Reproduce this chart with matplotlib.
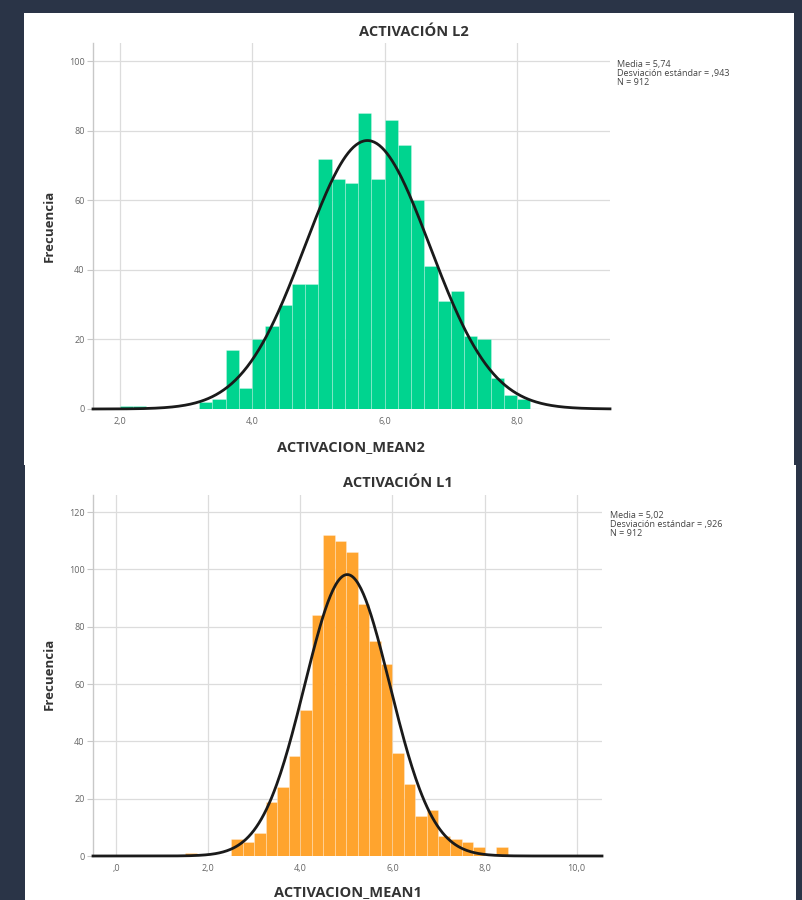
import numpy as np
import matplotlib
matplotlib.use('Agg')
from matplotlib import pyplot as plt
from matplotlib.patches import Rectangle

# L2 histogram: bin width 0.2
l2_edges_start = 2.0
l2_bin_width = 0.2
l2_counts = [1, 1, 0, 0, 0, 0, 2, 3, 17, 6, 20, 24, 30, 36, 36, 72, 66, 65, 85, 66,
             83, 76, 60, 41, 31, 34, 21, 20, 9, 4, 3]
l2_mean, l2_sd, l2_n = 5.74, 0.943, 912

# L1 histogram: bin width 0.25
l1_edges_start = 1.5
l1_bin_width = 0.25
l1_counts = [1, 0, 0, 0, 6, 5, 8, 19, 24, 35, 51, 84, 112, 110, 106, 88, 75, 67,
             36, 25, 14, 16, 7, 6, 5, 3, 0, 3]
l1_mean, l1_sd, l1_n = 5.02, 0.926, 912

W, H = 802, 900
NAVY = '#2a3447'
GREEN = '#00d48f'
ORANGE = '#ffa42e'
GRID = '#dcdcdc'

plt.rcParams['font.family'] = ['Open Sans', 'DejaVu Sans']

fig = plt.figure(figsize=(W / 100, H / 100), dpi=100)
fig.patch.set_facecolor(NAVY)


def rect(l, t, r, b):
    return [l / W, 1 - b / H, (r - l) / W, (b - t) / H]


def px(x, y):
    return x / W, 1 - y / H


# white cards behind each chart
for l, t, r, b in [(24, 13, 794, 465), (25, 465, 796, 900)]:
    fig.patches.append(Rectangle((l / W, 1 - b / H), (r - l) / W, (b - t) / H,
                                 transform=fig.transFigure, facecolor='white',
                                 edgecolor='none', zorder=-5))


def histogram(ax, start, bw, counts, mean, sd, n, color, xlim, ylim, xticks, yticks, xlabels):
    lefts = start + bw * np.arange(len(counts))
    ax.bar(lefts, counts, width=bw, align='edge', color=color,
           edgecolor=(1, 1, 1, 0.3), linewidth=0.6, zorder=2)
    xs = np.linspace(xlim[0], xlim[1], 400)
    ys = n * bw * np.exp(-0.5 * ((xs - mean) / sd) ** 2) / (sd * np.sqrt(2 * np.pi))
    ax.plot(xs, ys, color='#1a1a1a', linewidth=2.0, zorder=3, clip_on=False)
    ax.set_xlim(*xlim)
    ax.set_ylim(*ylim)
    ax.set_xticks(xticks)
    ax.set_xticklabels(xlabels)
    ax.set_yticks(yticks)
    ax.grid(True, color=GRID, linewidth=0.9, zorder=0)
    ax.set_axisbelow(True)
    for s in ['top', 'right', 'bottom']:
        ax.spines[s].set_visible(False)
    ax.spines['left'].set_color('#c8c8c8')
    ax.spines['left'].set_linewidth(1.0)
    ax.tick_params(axis='x', length=0, labelsize=6.5, labelcolor='#666666', pad=6)
    ax.tick_params(axis='y', length=4, color='#c8c8c8', labelsize=6.5,
                   labelcolor='#666666', pad=2)
    ax.set_facecolor('none')


# ---- ACTIVACIÓN L2 ----
ax1 = fig.add_axes(rect(93, 43, 610, 409))
histogram(ax1, l2_edges_start, l2_bin_width, l2_counts, l2_mean, l2_sd, l2_n, GREEN,
          (1.6, 9.4), (0, 105.2), [2, 4, 6, 8], [0, 20, 40, 60, 80, 100],
          ['2,0', '4,0', '6,0', '8,0'])
fig.text(*px(414, 32), 'ACTIVACIÓN L2', ha='center', va='center',
         fontsize=10.5, fontweight='bold', color='#333333')
fig.text(*px(351, 447), 'ACTIVACION_MEAN2', ha='center', va='center',
         fontsize=10.5, fontweight='bold', color='#333333')
fig.text(*px(49, 226), 'Frecuencia', ha='center', va='center', rotation=90,
         fontsize=9.5, fontweight='bold', color='#333333')
fig.text(*px(617, 60), 'Media = 5,74\nDesviación estándar = ,943\nN = 912',
         ha='left', va='top', fontsize=6.5, color='#444444', linespacing=1.0)

# ---- ACTIVACIÓN L1 ----
ax2 = fig.add_axes(rect(93, 495, 602, 856))
histogram(ax2, l1_edges_start, l1_bin_width, l1_counts, l1_mean, l1_sd, l1_n, ORANGE,
          (-0.5, 10.55), (0, 126), [0, 2, 4, 6, 8, 10], [0, 20, 40, 60, 80, 100, 120],
          [',0', '2,0', '4,0', '6,0', '8,0', '10,0'])
fig.text(*px(398, 483), 'ACTIVACIÓN L1', ha='center', va='center',
         fontsize=10.5, fontweight='bold', color='#333333')
fig.text(*px(348, 892), 'ACTIVACION_MEAN1', ha='center', va='center',
         fontsize=10.5, fontweight='bold', color='#333333')
fig.text(*px(49, 674), 'Frecuencia', ha='center', va='center', rotation=90,
         fontsize=9.5, fontweight='bold', color='#333333')
fig.text(*px(610, 511), 'Media = 5,02\nDesviación estándar = ,926\nN = 912',
         ha='left', va='top', fontsize=6.5, color='#444444', linespacing=1.0)

fig.savefig('out.png', dpi=100, facecolor=fig.get_facecolor())
